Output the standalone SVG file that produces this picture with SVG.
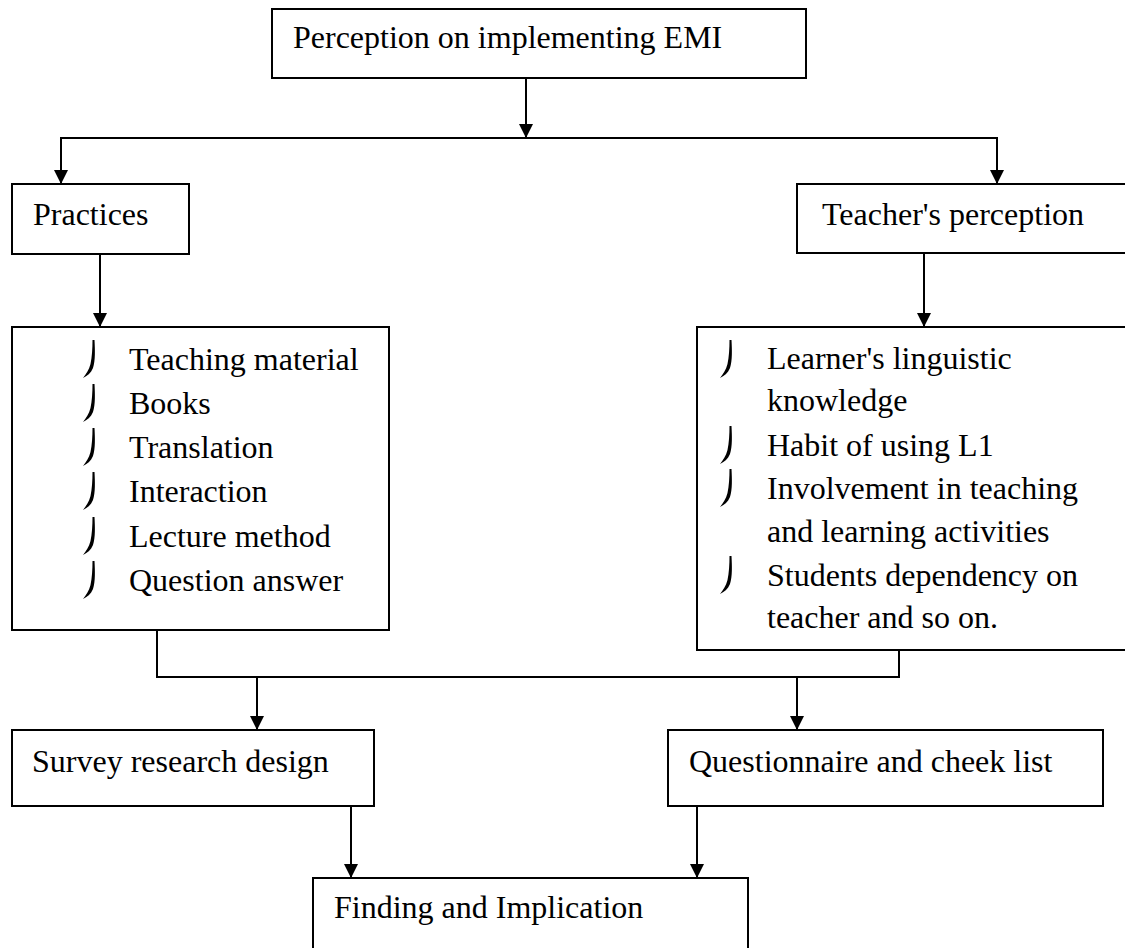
<svg xmlns="http://www.w3.org/2000/svg" width="1125" height="948" viewBox="0 0 1125 948">
<style>
.box{fill:#fff;stroke:#000;stroke-width:2}
.t{font-family:"Liberation Serif","Times New Roman",serif;font-size:32px;fill:#000}
.ln{fill:none;stroke:#000;stroke-width:2}
</style>
<defs>
<marker id="ah" markerUnits="userSpaceOnUse" markerWidth="14" markerHeight="14" refX="14" refY="7" orient="auto">
<path d="M0,0 L14,7 L0,14 Z" fill="#000"/>
</marker>
<path id="bl" d="M9.5,0 L11.5,0 C12,10 12.5,20 10,28 C8,33 4,36 0,38 C3,34 6,30 7.5,24 C9,17 9.5,8 9.5,0 Z" fill="#000"/>
</defs>
<rect width="1125" height="948" fill="#fff"/>
<g id="connectors">
<line class="ln" x1="526" y1="78" x2="526" y2="138" marker-end="url(#ah)"/>
<polyline class="ln" points="61,183 61,138 997,138 997,183"/>
<line class="ln" x1="61" y1="160" x2="61" y2="184" marker-end="url(#ah)"/>
<line class="ln" x1="997" y1="160" x2="997" y2="184" marker-end="url(#ah)"/>
<line class="ln" x1="100" y1="254" x2="100" y2="327" marker-end="url(#ah)"/>
<line class="ln" x1="924" y1="253" x2="924" y2="327" marker-end="url(#ah)"/>
<polyline class="ln" points="157,630 157,677 899,677 899,650"/>
<line class="ln" x1="257" y1="677" x2="257" y2="730" marker-end="url(#ah)"/>
<line class="ln" x1="797" y1="677" x2="797" y2="730" marker-end="url(#ah)"/>
<line class="ln" x1="351" y1="806" x2="351" y2="878" marker-end="url(#ah)"/>
<line class="ln" x1="697" y1="806" x2="697" y2="878" marker-end="url(#ah)"/>
</g>
<g id="n-top">
<rect class="box" x="272" y="9" width="534" height="69"/>
<text class="t" x="293" y="48">Perception on implementing EMI</text>
</g>
<g id="n-practices">
<rect class="box" x="12" y="184" width="177" height="70"/>
<text class="t" x="33" y="225">Practices</text>
</g>
<g id="n-teacher">
<rect class="box" x="797" y="184" width="340" height="69"/>
<text class="t" x="822" y="225">Teacher's perception</text>
</g>
<g id="n-practices-list">
<rect class="box" x="12" y="327" width="377" height="303"/>
<use href="#bl" x="83" y="340"/>
<use href="#bl" x="83" y="384"/>
<use href="#bl" x="83" y="428"/>
<use href="#bl" x="83" y="472"/>
<use href="#bl" x="83" y="517"/>
<use href="#bl" x="83" y="561"/>
<text class="t" x="129" y="370">Teaching material</text>
<text class="t" x="129" y="414">Books</text>
<text class="t" x="129" y="458">Translation</text>
<text class="t" x="129" y="502">Interaction</text>
<text class="t" x="129" y="547">Lecture method</text>
<text class="t" x="129" y="591">Question answer</text>
</g>
<g id="n-teacher-list">
<rect class="box" x="697" y="327" width="440" height="323"/>
<use href="#bl" x="720" y="340"/>
<use href="#bl" x="720" y="426"/>
<use href="#bl" x="720" y="469"/>
<use href="#bl" x="720" y="556"/>
<text class="t" x="767" y="369">Learner's linguistic</text>
<text class="t" x="767" y="411">knowledge</text>
<text class="t" x="767" y="456">Habit of using L1</text>
<text class="t" x="767" y="499">Involvement in teaching</text>
<text class="t" x="767" y="542">and learning activities</text>
<text class="t" x="767" y="586">Students dependency on</text>
<text class="t" x="767" y="628">teacher and so on.</text>
</g>
<g id="n-survey">
<rect class="box" x="12" y="730" width="362" height="76"/>
<text class="t" x="32" y="772">Survey research design</text>
</g>
<g id="n-questionnaire">
<rect class="box" x="668" y="730" width="435" height="76"/>
<text class="t" x="689" y="772">Questionnaire and cheek list</text>
</g>
<g id="n-finding">
<rect class="box" x="313" y="878" width="435" height="90"/>
<text class="t" x="334" y="918">Finding and Implication</text>
</g>
</svg>
